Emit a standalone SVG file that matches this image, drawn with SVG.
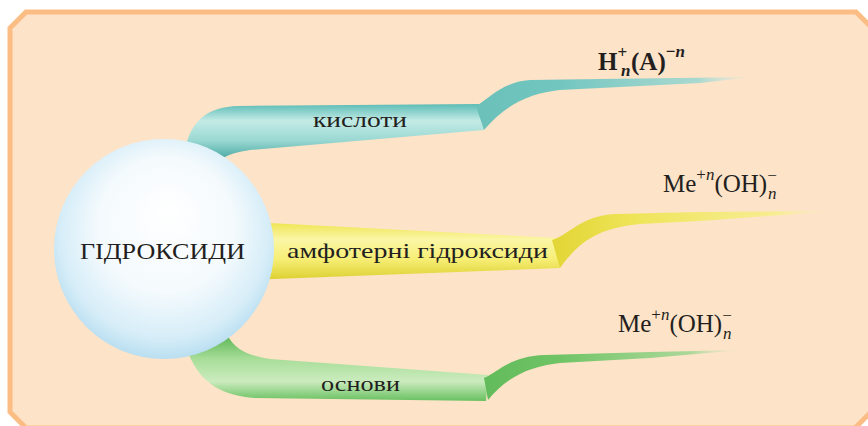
<svg xmlns="http://www.w3.org/2000/svg" width="868" height="426" viewBox="0 0 868 426">
  <defs>
    <style>
      .lbl { font-family: "Liberation Serif", "DejaVu Serif", serif; fill: #231f20; }
      .tube { font-size: 22px; }
      .f { font-family: "Liberation Serif", "DejaVu Serif", serif; fill: #231f20; font-size: 25px; }
      .sm { font-size: 17px; }
      .it { font-style: italic; }
    </style>
    <radialGradient id="sphereGrad" cx="0.5" cy="0.45" r="0.56" fx="0.52" fy="0.32">
      <stop offset="0" stop-color="#ffffff"/>
      <stop offset="0.55" stop-color="#f4fafd"/>
      <stop offset="0.85" stop-color="#d6edf8"/>
      <stop offset="1" stop-color="#b6ddf0"/>
    </radialGradient>
    <linearGradient id="tealBody" x1="0" y1="0" x2="0" y2="1">
      <stop offset="0" stop-color="#5cbcb6"/>
      <stop offset="0.3" stop-color="#c4ebe6"/>
      <stop offset="0.65" stop-color="#9ad8d2"/>
      <stop offset="1" stop-color="#46a7a1"/>
    </linearGradient>
    <linearGradient id="tealTail" x1="0" y1="0" x2="1" y2="0">
      <stop offset="0" stop-color="#6cc0ba"/>
      <stop offset="0.3" stop-color="#72c6c0"/>
      <stop offset="0.8" stop-color="#9ad7d1" stop-opacity="0.85"/>
      <stop offset="1" stop-color="#c9ece7" stop-opacity="0"/>
    </linearGradient>
    <linearGradient id="yellowBody" x1="0" y1="0" x2="0" y2="1">
      <stop offset="0" stop-color="#eee44e"/>
      <stop offset="0.3" stop-color="#fbf6a6"/>
      <stop offset="0.65" stop-color="#f6ee74"/>
      <stop offset="1" stop-color="#dccf30"/>
    </linearGradient>
    <linearGradient id="yellowTail" x1="0" y1="0" x2="1" y2="0">
      <stop offset="0" stop-color="#e2d535"/>
      <stop offset="0.3" stop-color="#efe55a"/>
      <stop offset="0.8" stop-color="#f6ee8a" stop-opacity="0.85"/>
      <stop offset="1" stop-color="#fbf6c0" stop-opacity="0"/>
    </linearGradient>
    <linearGradient id="greenBody" x1="0" y1="0" x2="0" y2="1">
      <stop offset="0" stop-color="#5cb655"/>
      <stop offset="0.35" stop-color="#a8dd99"/>
      <stop offset="0.7" stop-color="#cbecbe"/>
      <stop offset="1" stop-color="#68c060"/>
    </linearGradient>
    <linearGradient id="greenTail" x1="0" y1="0" x2="1" y2="0">
      <stop offset="0" stop-color="#62bb5b"/>
      <stop offset="0.3" stop-color="#70c466"/>
      <stop offset="0.8" stop-color="#9dd690" stop-opacity="0.85"/>
      <stop offset="1" stop-color="#cbeac1" stop-opacity="0"/>
    </linearGradient>
  </defs>

  <!-- background panel with chamfered corners -->
  <path d="M 10,28 L 26,12 L 856,12 L 871,27 L 871,412 L 855,428 L 26,428 L 10,412 Z"
        fill="#fde3c8" stroke="#fbbd84" stroke-width="5"/>

  <!-- branches from the central sphere -->
  <g id="connectors">
    <g id="branch-acids">
      <path d="M 186,146 C 192,120 208,107 238,106 L 480,104 L 484,130 L 250,150 C 238,152 228,154 220,160 Z" fill="url(#tealBody)"/>
      <path d="M 476,106 C 490,98 502,82 530,80 L 600,79 L 754,77 L 700,83 L 560,90 C 530,93 505,105 484,130 Z" fill="url(#tealTail)"/>
    </g>
    <g id="branch-amphoteric">
      <path d="M 250,222 L 556,238 L 560,268 L 250,280 Z" fill="url(#yellowBody)"/>
      <path d="M 552,240 C 568,236 580,216 615,214 L 700,212 L 836,211 L 700,221 L 640,224 C 600,228 580,240 560,268 Z" fill="url(#yellowTail)"/>
    </g>
    <g id="branch-bases">
      <path d="M 188,352 C 200,385 225,396 255,398 L 486,401 L 488,375 L 270,359 C 250,356 235,350 228,336 Z" fill="url(#greenBody)"/>
      <path d="M 484,378 C 498,372 510,356 545,355 L 650,352 L 742,350 L 650,358 L 560,363 C 530,366 505,378 488,400 Z" fill="url(#greenTail)"/>
    </g>
  </g>

  <!-- central node -->
  <g id="node-hydroxides">
    <circle cx="164" cy="249" r="110" fill="url(#sphereGrad)"/>
    <text class="lbl" x="80" y="259" font-size="24" textLength="165" lengthAdjust="spacingAndGlyphs">ГІДРОКСИДИ</text>
  </g>

  <g id="label-acids">
    <text class="lbl tube" x="313" y="127" textLength="94" lengthAdjust="spacingAndGlyphs">кислоти</text>
  </g>
  <g id="label-amphoteric">
    <text class="lbl tube" x="287" y="258" textLength="261" lengthAdjust="spacingAndGlyphs">амфотерні гідроксиди</text>
  </g>
  <g id="label-bases">
    <text class="lbl tube" x="321" y="391" textLength="79" lengthAdjust="spacingAndGlyphs">основи</text>
  </g>

  <!-- general formulas -->
  <g id="formula-acids">
    <text class="f" x="598" y="70" font-weight="bold">H<tspan class="sm" dy="-12">+</tspan><tspan class="sm it" x="621" dy="18">n</tspan><tspan x="631" dy="-6">(A)</tspan><tspan class="sm" dy="-13">−<tspan class="it">n</tspan></tspan></text>
  </g>
  <g id="formula-amphoteric">
    <text class="f" x="663" y="192">Me<tspan class="sm" dy="-12">+<tspan class="it">n</tspan></tspan><tspan dy="12">(OH)</tspan><tspan class="sm" dy="-11">−</tspan><tspan class="sm it" x="768" dy="18">n</tspan></text>
  </g>
  <g id="formula-bases">
    <text class="f" x="618" y="332">Me<tspan class="sm" dy="-12">+<tspan class="it">n</tspan></tspan><tspan dy="12">(OH)</tspan><tspan class="sm" dy="-11">−</tspan><tspan class="sm it" x="723" dy="18">n</tspan></text>
  </g>
</svg>
